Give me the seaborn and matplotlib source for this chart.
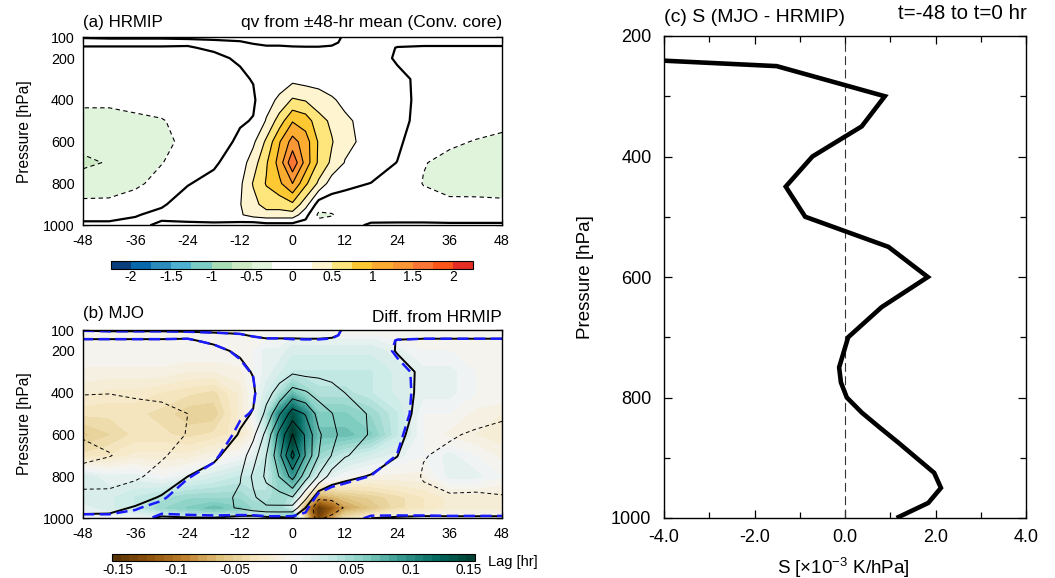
import numpy as np
import pandas as pd
import matplotlib
matplotlib.use("Agg")
import matplotlib.pyplot as plt
from matplotlib.colors import ListedColormap, BoundaryNorm, Normalize
from matplotlib.cm import ScalarMappable
import seaborn as sns

# ---------------------------------------------------------------- data
LAGS = [-48, -42, -36, -30, -24, -18, -12, -9, -6, -3, 0, 3, 6, 9, 12, 18, 24, 30, 36, 42, 48]
LEVELS = [100, 125, 150, 200, 300, 400, 500, 600, 700, 800, 900, 950, 1000]

# qv anomaly from the +-48-hr mean, HRMIP composite (rows: LEVELS, columns: LAGS)
QV_HRMIP = [
    [-0.005, -0.01, -0.01, -0.01, -0.01, -0.02, -0.03, -0.04, -0.06, -0.06, -0.06, -0.06, -0.06, -0.05, 0.02, 0.04, 0.04, 0.04, 0.04, 0.04, 0.04],
    [0.03, 0.03, 0.03, 0.03, 0.02, 0.02, 0.01, -0.01, -0.03, -0.03, -0.03, -0.04, -0.04, -0.03, 0.03, 0.05, 0.03, 0.02, 0.02, 0.02, 0.02],
    [-0.01, -0.01, -0.01, -0.01, -0.01, 0.02, 0.04, 0.03, 0.02, 0.02, 0.01, 0.01, 0.01, 0.02, 0.05, 0.06, -0.005, -0.01, -0.01, -0.01, -0.01],
    [-0.05, -0.05, -0.05, -0.04, -0.04, -0.03, 0.02, 0.04, 0.05, 0.06, 0.06, 0.07, 0.07, 0.08, 0.08, 0.08, -0.02, -0.03, -0.03, -0.03, -0.03],
    [-0.12, -0.12, -0.12, -0.10, -0.08, -0.08, -0.03, 0.01, 0.08, 0.12, 0.18, 0.14, 0.16, 0.16, 0.14, 0.12, 0.04, -0.04, -0.05, -0.05, -0.05],
    [-0.22, -0.22, -0.20, -0.18, -0.14, -0.12, -0.05, -0.03, 0.15, 0.30, 0.53, 0.48, 0.35, 0.27, 0.21, 0.16, 0.07, -0.06, -0.08, -0.10, -0.12],
    [-0.30, -0.30, -0.28, -0.26, -0.20, -0.14, -0.02, 0.01, 0.27, 0.62, 0.98, 0.88, 0.60, 0.45, 0.28, 0.18, 0.09, -0.10, -0.14, -0.17, -0.20],
    [-0.42, -0.40, -0.36, -0.30, -0.20, -0.10, 0.04, 0.20, 0.55, 0.98, 1.35, 1.12, 0.72, 0.52, 0.31, 0.17, 0.05, -0.17, -0.22, -0.26, -0.29],
    [-0.55, -0.48, -0.40, -0.26, -0.12, -0.03, 0.12, 0.38, 0.72, 1.10, 1.70, 1.15, 0.70, 0.45, 0.24, 0.12, -0.005, -0.24, -0.30, -0.32, -0.33],
    [-0.38, -0.36, -0.30, -0.16, -0.01, 0.06, 0.20, 0.52, 0.77, 0.95, 1.25, 0.80, 0.45, 0.12, 0.05, -0.005, -0.08, -0.26, -0.30, -0.32, -0.32],
    [-0.20, -0.20, -0.12, -0.02, 0.08, 0.10, 0.24, 0.42, 0.60, 0.60, 0.70, 0.35, -0.12, -0.12, -0.10, -0.08, -0.12, -0.16, -0.22, -0.21, -0.22],
    [-0.08, -0.08, -0.01, 0.04, 0.06, 0.08, 0.22, 0.35, 0.40, 0.40, 0.40, 0.08, -0.30, -0.27, -0.15, -0.06, -0.08, -0.08, -0.10, -0.10, -0.10],
    [0.05, 0.05, 0.04, -0.03, -0.03, -0.03, -0.10, -0.15, -0.10, -0.10, -0.10, -0.10, -0.15, -0.10, -0.05, 0.02, 0.03, 0.03, 0.03, 0.03, 0.03],
]

# MJO minus HRMIP difference (rows: LEVELS, columns: LAGS)
QV_DIFF = [
    [0.0, 0.0, 0.0, 0.0, 0.0, 0.0, 0.0, 0.0, 0.0, 0.0, 0.0, 0.0, 0.0, 0.0, 0.0, 0.0, 0.0, 0.0, 0.0, 0.0, 0.0],
    [0.0, 0.0, 0.0, 0.0, 0.0, 0.0, 0.0, 0.0, 0.0, 0.0, 0.0, 0.0, 0.0, 0.0, 0.0, 0.0, 0.0, 0.0, 0.0, 0.0, 0.0],
    [0.0, 0.0, 0.0, 0.0, 0.0, 0.0, 0.0, 0.0, 0.0, 0.0, 0.01, 0.01, 0.01, 0.01, 0.01, 0.01, 0.0, 0.0, 0.0, 0.0, 0.0],
    [0.0, 0.0, 0.0, 0.0, 0.0, 0.0, 0.0, 0.0, 0.01, 0.01, 0.02, 0.02, 0.02, 0.02, 0.02, 0.02, 0.01, 0.0, 0.0, 0.0, 0.0],
    [-0.01, -0.01, -0.01, -0.01, -0.015, -0.015, -0.01, 0.0, 0.01, 0.02, 0.03, 0.03, 0.03, 0.03, 0.03, 0.03, 0.02, 0.01, 0.01, 0.0, 0.0],
    [-0.02, -0.025, -0.025, -0.03, -0.035, -0.04, -0.02, 0.0, 0.02, 0.04, 0.07, 0.05, 0.04, 0.04, 0.04, 0.03, 0.02, 0.01, 0.01, 0.0, 0.0],
    [-0.035, -0.035, -0.035, -0.04, -0.05, -0.05, -0.02, 0.0, 0.04, 0.10, 0.14, 0.10, 0.06, 0.06, 0.06, 0.05, 0.03, 0.0, 0.0, -0.01, -0.015],
    [-0.055, -0.045, -0.035, -0.035, -0.04, -0.035, -0.025, -0.01, 0.03, 0.10, 0.16, 0.10, 0.07, 0.07, 0.07, 0.06, 0.03, 0.0, -0.01, -0.015, -0.02],
    [-0.035, -0.03, -0.02, -0.02, -0.02, -0.01, 0.0, 0.01, 0.03, 0.08, 0.13, 0.08, 0.05, 0.04, 0.03, 0.02, 0.01, 0.0, 0.01, 0.0, -0.01],
    [0.02, 0.01, 0.01, 0.0, 0.01, 0.02, 0.03, 0.03, 0.03, 0.06, 0.09, 0.05, 0.02, 0.01, 0.0, -0.01, -0.01, -0.01, 0.01, 0.01, 0.0],
    [0.02, 0.02, 0.03, 0.04, 0.05, 0.05, 0.05, 0.04, 0.04, 0.05, 0.04, -0.03, -0.08, -0.07, -0.06, -0.05, -0.04, -0.03, -0.02, -0.02, -0.02],
    [0.01, 0.02, 0.03, 0.05, 0.06, 0.07, 0.06, 0.05, 0.05, 0.05, 0.02, -0.08, -0.15, -0.12, -0.08, -0.06, -0.04, -0.03, -0.02, -0.02, -0.02],
    [0.0, 0.0, 0.0, 0.01, 0.02, 0.02, 0.02, 0.02, 0.03, 0.04, 0.08, -0.05, -0.14, -0.08, -0.04, -0.02, -0.01, 0.0, 0.0, 0.0, 0.0],
]

# Stability difference S (MJO - HRMIP), t=-48 to t=0 hr, x10^-3 K/hPa
S_LEVELS = [225, 250, 300, 350, 400, 450, 500, 550, 600, 650, 700, 750, 775, 800, 825, 850, 875, 925, 950, 975, 1000]
S_DIFF = [-8.4, -1.51, 0.88, 0.37, -0.72, -1.31, -0.88, 0.96, 1.83, 0.81, 0.07, -0.13, -0.09, 0.04, 0.37, 0.77, 1.18, 1.97, 2.12, 1.84, 1.14]

QV_COLORS = ["#0a3d7c", "#0868ac", "#2b8cbe", "#4eb3d3", "#7bccc4", "#a8ddb5", "#ccebc5", "#e0f3db",
             "#ffffff", "#ffffff",
             "#fef5d0", "#fee67c", "#fdc832", "#fdac32", "#fb9636", "#fb7634", "#fb561a", "#e62d25"]
QV_BOUNDS = list(np.arange(-2.25, 2.2501, 0.25))
QV_CBAR_TICKS = [-2, -1.5, -1, -0.5, 0, 0.5, 1, 1.5, 2]
DIFF_CBAR_TICKS = [-0.15, -0.1, -0.05, 0, 0.05, 0.1, 0.15]
DIFF_LIMIT = 0.155

LAG_TICKS = [-48, -36, -24, -12, 0, 12, 24, 36, 48]
LAG_MINOR = [-42, -30, -18, -6, 6, 18, 30, 42]
P_TICKS = [100, 200, 400, 600, 800, 1000]
P_MINOR = [300, 500, 700, 900]
S_P_TICKS = [200, 400, 600, 800, 1000]
S_P_MINOR = [300, 500, 700, 900]
S_X_TICKS = [-4.0, -2.0, 0.0, 2.0, 4.0]
S_X_MINOR = [-3, -1, 1, 3]

# ---------------------------------------------------------------- style
sns.set_theme(style="ticks")
plt.rcParams.update({
    "font.family": ["Liberation Sans", "DejaVu Sans"],
    "axes.unicode_minus": False,
    "mathtext.fontset": "custom",
    "mathtext.rm": "Liberation Sans",
    "mathtext.it": "Liberation Sans:italic",
    "mathtext.bf": "Liberation Sans:bold",
    "axes.edgecolor": "black",
    "axes.linewidth": 1.0,
    "xtick.color": "black",
    "ytick.color": "black",
    "text.color": "black",
    "axes.labelcolor": "black",
})

W, H = 1055, 578
fig = plt.figure(figsize=(W / 100, H / 100), dpi=100)


def px_axes(x0, y0, x1, y1):
    return fig.add_axes([x0 / W, 1 - y1 / H, (x1 - x0) / W, (y1 - y0) / H])


ax_a = px_axes(83, 37.3, 502, 225.3)
ax_b = px_axes(83, 330, 502, 518.3)
ax_c = px_axes(664, 36, 1026, 518)
cax_a = px_axes(111, 260.5, 473, 268.5)
cax_b = px_axes(112, 554, 475, 561)

lag = np.array(LAGS, dtype=float)
lev = np.array(LEVELS, dtype=float)
hrmip = np.array(QV_HRMIP)
diff = np.array(QV_DIFF)
mjo = hrmip + diff


def style_lag_panel(ax):
    ax.set_xlim(LAGS[0], LAGS[-1])
    ax.set_ylim(LEVELS[-1], LEVELS[0])
    ax.set_xticks(LAG_TICKS)
    ax.set_xticks(LAG_MINOR, minor=True)
    ax.set_yticks(P_TICKS)
    ax.set_yticks(P_MINOR, minor=True)
    ax.set_xticklabels([f"{v:d}" for v in LAG_TICKS])
    ax.set_yticklabels([f"{v:d}" for v in P_TICKS])
    ax.tick_params(which="both", direction="in", top=True, right=True, width=0.9)
    ax.tick_params(which="major", length=4.5, labelsize=10.3, pad=6)
    ax.tick_params(which="minor", length=3)
    for s in ax.spines.values():
        s.set_linewidth(1.0)
        s.set_color("black")


def qv_contours(ax, field, thin_lw, zero_lw):
    neg = [b for b in QV_BOUNDS if b < -1e-9]
    pos = [b for b in QV_BOUNDS if b > 1e-9]
    cn = ax.contour(lag, lev, field, levels=neg, colors="black", linewidths=thin_lw, linestyles="solid")
    cn.set_linestyle((0, (4, 3)))
    ax.contour(lag, lev, field, levels=pos, colors="black", linewidths=thin_lw, linestyles="solid")
    ax.contour(lag, lev, field, levels=[0.0], colors="black", linewidths=zero_lw, linestyles="solid")


# ---------------------------------------------------------------- (a)
cmap_a = ListedColormap(QV_COLORS)
norm_a = BoundaryNorm(QV_BOUNDS, cmap_a.N)
cf_a = ax_a.contourf(lag, lev, hrmip, levels=QV_BOUNDS, cmap=cmap_a, norm=norm_a)
qv_contours(ax_a, hrmip, 0.8, 1.6)
style_lag_panel(ax_a)
ax_a.text(0.0, 1.056, "(a) HRMIP", transform=ax_a.transAxes, ha="left", va="baseline", fontsize=12.2)
ax_a.text(1.0, 1.056, "qv from \u00b148-hr mean (Conv. core)", transform=ax_a.transAxes,
          ha="right", va="baseline", fontsize=12.5)

cb_a = fig.colorbar(cf_a, cax=cax_a, orientation="horizontal", ticks=QV_CBAR_TICKS)
cb_a.ax.set_xticklabels([f"{t:g}" for t in QV_CBAR_TICKS])
cb_a.ax.tick_params(which="both", length=0, labelsize=10, pad=1.2)
cb_a.outline.set_linewidth(0.8)

# ---------------------------------------------------------------- (b)
diff_levels = np.linspace(-DIFF_LIMIT, DIFF_LIMIT, 43)
norm_b = Normalize(-DIFF_LIMIT, DIFF_LIMIT)
ax_b.contourf(lag, lev, diff, levels=diff_levels, cmap="BrBG", norm=norm_b, extend="both")
qv_contours(ax_b, mjo, 0.7, 1.4)
cz = ax_b.contour(lag, lev, hrmip, levels=[0.0], colors="#1a1aff", linewidths=1.8, linestyles="solid")
cz.set_linestyle((0, (4.5, 2.2)))
style_lag_panel(ax_b)
ax_b.text(0.0, 1.065, "(b) MJO", transform=ax_b.transAxes, ha="left", va="baseline", fontsize=12.2)
ax_b.text(1.0, 1.044, "Diff. from HRMIP", transform=ax_b.transAxes, ha="right", va="baseline", fontsize=12.4)

sm_b = ScalarMappable(norm=norm_b, cmap="BrBG")
cb_b = fig.colorbar(sm_b, cax=cax_b, orientation="horizontal", boundaries=diff_levels,
                    ticks=DIFF_CBAR_TICKS)
cb_b.ax.set_xticklabels([f"{t:g}" for t in DIFF_CBAR_TICKS])
cb_b.ax.tick_params(which="both", length=0, labelsize=9.8, pad=1.2)
cb_b.outline.set_linewidth(0.8)
fig.text(488 / W, 1 - 562 / H, "Lag [hr]", ha="left", va="center", fontsize=10.5)

for y_mid in (131.3, 424.0):
    fig.text(25 / W, 1 - y_mid / H, "Pressure [hPa]", rotation=90, ha="center", va="center", fontsize=11.2)

# ---------------------------------------------------------------- (c)
profile = pd.DataFrame({"S": S_DIFF, "p": S_LEVELS})
sns.lineplot(data=profile, x="S", y="p", orient="y", estimator=None, color="black",
             linewidth=3.3, ax=ax_c)
for ln in ax_c.lines:
    ln.set_solid_joinstyle("miter")
    ln.set_solid_capstyle("butt")
ax_c.axvline(0.0, color="#333333", linewidth=0.8, linestyle=(0, (8, 4)), zorder=1)
ax_c.set_xlim(-4, 4)
ax_c.set_ylim(1000, 200)
ax_c.set_xticks(S_X_TICKS)
ax_c.set_xticks(S_X_MINOR, minor=True)
ax_c.set_xticklabels([f"{v:.1f}" for v in S_X_TICKS])
ax_c.set_yticks(S_P_TICKS)
ax_c.set_yticks(S_P_MINOR, minor=True)
ax_c.set_yticklabels([f"{v:d}" for v in S_P_TICKS])
ax_c.tick_params(which="both", direction="in", top=True, right=True, width=0.9)
ax_c.tick_params(which="major", length=6, labelsize=13)
ax_c.tick_params(axis="x", which="major", pad=8)
ax_c.tick_params(axis="y", which="major", pad=9)
ax_c.tick_params(which="minor", length=4)
for s in ax_c.spines.values():
    s.set_linewidth(1.0)
    s.set_color("black")
ax_c.set_xlabel("")
ax_c.set_ylabel("")
fig.text(843 / W, 1 - 568 / H, r"S [$\times$10$^{-3}$ K/hPa]", ha="center", va="center", fontsize=13.5)
fig.text(585 / W, 1 - 277 / H, "Pressure [hPa]", rotation=90, ha="center", va="center", fontsize=13.5)
ax_c.text(0.0, 1.03, "(c) S (MJO - HRMIP)", transform=ax_c.transAxes, ha="left", va="baseline", fontsize=14)
ax_c.text(1.002, 1.035, "t=-48 to t=0 hr", transform=ax_c.transAxes, ha="right", va="baseline", fontsize=14.8)

fig.savefig("out.png", dpi=100)
